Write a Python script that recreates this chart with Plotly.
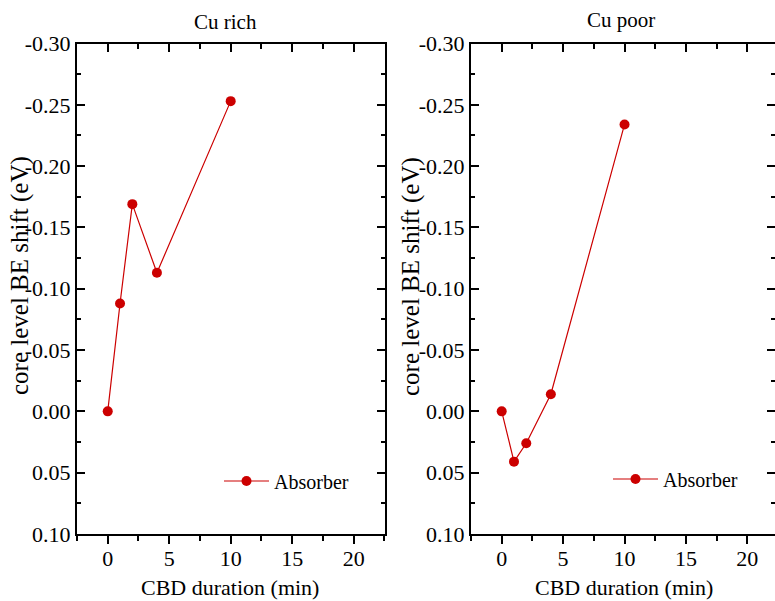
import plotly.graph_objects as go

# ---- data ----
panel_titles = ["Cu rich", "Cu poor"]
series_name = "Absorber"
cbd_rich = [0, 1, 2, 4, 10]
shift_rich = [0.000, -0.088, -0.169, -0.113, -0.253]
cbd_poor = [0, 1, 2, 4, 10]
shift_poor = [0.000, 0.041, 0.026, -0.014, -0.234]
x_ticks = [0, 5, 10, 15, 20]
y_ticks = [-0.30, -0.25, -0.20, -0.15, -0.10, -0.05, 0.00, 0.05, 0.10]
y_ticktext = ["-0.30", "-0.25", "-0.20", "-0.15", "-0.10", "-0.05", "0.00", "0.05", "0.10"]
x_title = "CBD duration (min)"
y_title = "core level BE shift (eV)"

W, H = 775, 601
FONT = "Liberation Serif, Times New Roman, Times, serif"
FS = 21
TFS = 22
RED = "#cc0000"

def px_x(p):
    return p / W

def px_y(p):
    return 1 - p / H

fig = go.Figure()
fig.add_trace(go.Scatter(x=cbd_rich, y=shift_rich, mode="lines+markers", name=series_name,
                         line=dict(color=RED, width=1.2), marker=dict(color=RED, size=10),
                         xaxis="x", yaxis="y", legend="legend"))
fig.add_trace(go.Scatter(x=cbd_poor, y=shift_poor, mode="lines+markers", name=series_name,
                         line=dict(color=RED, width=1.2), marker=dict(color=RED, size=10),
                         xaxis="x2", yaxis="y2", legend="legend2"))
# invisible helper traces for overlay tick axes
for xa, ya in [("x3", "y"), ("x4", "y2"), ("x2", "y4")]:
    fig.add_trace(go.Scatter(x=[], y=[], xaxis=xa, yaxis=ya, showlegend=False, hoverinfo="skip"))

ydom = [px_y(534), px_y(43.5)]
dom1 = [px_x(77), px_x(385)]
dom2 = [px_x(471), 1.0]
xr1 = [-2.5, 22.55]
xr2 = [-2.5, 22.25]
yr = [0.10, -0.30]

tickfont = dict(family=FONT, size=TFS, color="black")
common_x = dict(tickmode="array", tickvals=x_ticks, ticks="outside", ticklen=8, tickwidth=2,
                tickcolor="black", showline=True, linecolor="black", linewidth=2, mirror=True,
                showgrid=False, zeroline=False, tickfont=tickfont, automargin=False,
                ticklabelstandoff=-4,
                minor=dict(dtick=2.5, tick0=0, ticks="outside", ticklen=5, tickwidth=2, tickcolor="black"))
common_y = dict(tickmode="array", tickvals=y_ticks, ticktext=y_ticktext, ticks="inside", ticklen=8,
                tickwidth=2, tickcolor="black", showline=True, linecolor="black", linewidth=2,
                showgrid=False, zeroline=False, tickfont=tickfont, range=yr, domain=ydom, automargin=False,
                minor=dict(dtick=0.025, tick0=0, ticks="inside", ticklen=4, tickwidth=2, tickcolor="black"))
top_x = dict(tickmode="array", tickvals=x_ticks, ticks="inside", ticklen=8, tickwidth=2, tickcolor="black",
             showticklabels=False, showline=False, showgrid=False, zeroline=False, side="top",
             automargin=False,
             minor=dict(dtick=2.5, tick0=0, ticks="inside", ticklen=5, tickwidth=2, tickcolor="black"))

fig.update_layout(
    template="none",
    width=W, height=H, margin=dict(l=0, r=0, t=0, b=0, pad=0), autosize=False,
    paper_bgcolor="white", plot_bgcolor="white",
    font=dict(family=FONT, size=FS, color="black"),
    xaxis=dict(domain=dom1, range=xr1, anchor="y", **common_x),
    yaxis=dict(anchor="x", mirror="ticks", **common_y),
    xaxis2=dict(domain=dom2, range=xr2, anchor="y2", **common_x),
    yaxis2=dict(anchor="x2", mirror=False, **common_y),
    xaxis3=dict(overlaying="x", anchor="y", range=xr1, domain=dom1, **top_x),
    xaxis4=dict(overlaying="x2", anchor="y2", range=xr2, domain=dom2, **top_x),
    yaxis4=dict(overlaying="y2", anchor="x2", side="right", range=yr, domain=ydom,
                tickmode="array", tickvals=y_ticks, ticks="inside", ticklen=8, tickwidth=2,
                tickcolor="black", showticklabels=False, showline=False, showgrid=False, zeroline=False,
                automargin=False,
                minor=dict(dtick=0.025, tick0=0, ticks="inside", ticklen=4, tickwidth=2, tickcolor="black")),
    legend=dict(x=px_x(219), y=px_y(481), xanchor="left", yanchor="middle", itemwidth=45,
                bgcolor="rgba(0,0,0,0)", borderwidth=0, font=dict(family=FONT, size=20, color="black")),
    legend2=dict(x=px_x(608), y=px_y(479), xanchor="left", yanchor="middle", itemwidth=45,
                 bgcolor="rgba(0,0,0,0)", borderwidth=0, font=dict(family=FONT, size=20, color="black")),
    showlegend=True,
)

ann = []
for txt, cx, cy in [(panel_titles[0], 225, 22), (panel_titles[1], 621, 20)]:
    ann.append(dict(text=txt, x=px_x(cx), y=px_y(cy), xref="paper", yref="paper",
                    xanchor="center", yanchor="middle", showarrow=False, font=dict(family=FONT, size=FS)))
for cx in [230, 624]:
    ann.append(dict(text=x_title, x=px_x(cx), y=px_y(587), xref="paper", yref="paper",
                    xanchor="center", yanchor="middle", showarrow=False, font=dict(family=FONT, size=22)))
for cx in [20, 411]:
    ann.append(dict(text=y_title, x=px_x(cx), y=px_y(276), xref="paper", yref="paper",
                    xanchor="center", yanchor="middle", showarrow=False, textangle=-90,
                    font=dict(family=FONT, size=25)))
fig.update_layout(annotations=ann)

fig.write_html("out.html")
